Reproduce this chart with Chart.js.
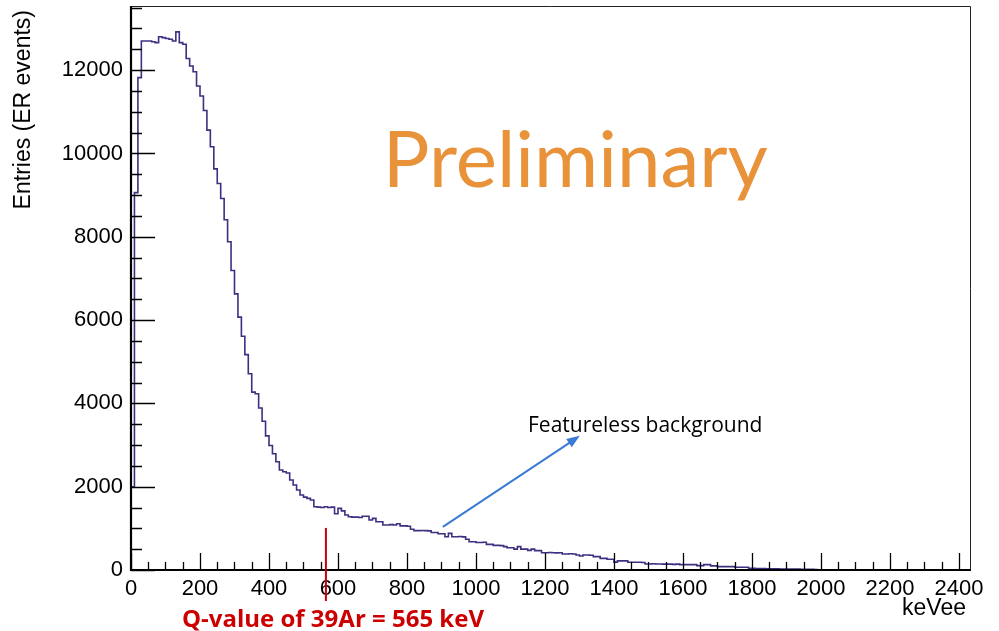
<!DOCTYPE html>
<html>
<head>
<meta charset="utf-8">
<script src="https://cdn.jsdelivr.net/npm/chart.js@4.4.1/dist/chart.umd.min.js"></script>
<style>
  html, body { margin: 0; padding: 0; background: #fff; }
  canvas { display: block; }
</style>
</head>
<body>
<canvas id="myChart" width="999" height="631"></canvas>
<script>
// histogram: 10 keVee bins from 0 to 2000, entries per bin
const BIN_WIDTH = 10;
const counts = [
    30, 2000, 9060, 11820, 12700, 12700, 12700, 12680, 12660, 12800,
    12780, 12760, 12740, 12700, 12920, 12660, 12620, 12280, 12100, 11960,
    11620, 11380, 11030, 10560, 10160, 9630, 9280, 8920, 8410, 7880,
    7190, 6630, 6070, 5610, 5170, 4710, 4270, 4230, 3890, 3570,
    3220, 2990, 2790, 2600, 2400, 2360, 2330, 2160, 2040, 1920,
    1800, 1750, 1720, 1680, 1520, 1510, 1500, 1520, 1500, 1510,
    1350, 1480, 1420, 1320, 1280, 1270, 1270, 1260, 1290, 1290,
    1200, 1240, 1160, 1160, 1080, 1080, 1090, 1080, 1110, 1060,
    1060, 1050, 980, 945, 945, 950, 945, 940, 900, 900,
    870, 870, 800, 880, 800, 800, 805, 795, 740, 680,
    680, 660, 660, 665, 615, 615, 590, 590, 585, 560,
    535, 535, 500, 560, 500, 500, 470, 500, 465, 465,
    415, 415, 420, 415, 410, 415, 385, 385, 390, 385,
    360, 336, 360, 360, 355, 320, 320, 280, 280, 257,
    257, 190, 220, 220, 220, 185, 185, 185, 185, 180,
    145, 145, 150, 145, 145, 140, 140, 140, 135, 140,
    130, 130, 130, 130, 130, 105, 105, 130, 130, 100,
    100, 80, 80, 80, 80, 80, 65, 65, 65, 65,
    40, 38, 35, 35, 33, 30, 30, 28, 28, 25,
    25, 22, 22, 20, 20, 18, 18, 15, 15, 12
];

const xTicks = [0, 200, 400, 600, 800, 1000, 1200, 1400, 1600, 1800, 2000, 2200, 2400];
const yTicks = [0, 2000, 4000, 6000, 8000, 10000, 12000];
const X_MAX = 2432;
const Y_MAX = 13540;

const xTitle = 'keVee';
const yTitle = 'Entries (ER events)';
const qValue = 565;
const qLabel = 'Q-value of 39Ar = 565 keV';
const bgLabel = 'Featureless background';
const bgArrow = { from: [904, 1034], to: [1301, 3220] };
const watermark = 'Preliminary';

const points = counts.map((c, i) => ({ x: i * BIN_WIDTH, y: c }));
points.push({ x: counts.length * BIN_WIDTH, y: 0 });

const ROOT_FONT = '"Liberation Sans", Arial, sans-serif';

const rootAxes = {
    id: 'rootAxes',
    afterDraw(chart)
    {
        const ctx = chart.ctx;
        const xs = chart.scales.x;
        const ys = chart.scales.y;
        const a = chart.chartArea;

        ctx.save();

        // frame
        ctx.strokeStyle = '#222';
        ctx.lineWidth = 1;
        ctx.beginPath();
        ctx.moveTo(a.left, a.top + 0.5);
        ctx.lineTo(a.right + 0.5, a.top + 0.5);
        ctx.lineTo(a.right + 0.5, a.bottom);
        ctx.stroke();

        // tick marks, drawn inward like ROOT
        ctx.strokeStyle = '#000';
        ctx.lineWidth = 1.3;
        ctx.beginPath();
        for (let v = 0; v <= 2400; v += 50)
        {
            const px = Math.round(xs.getPixelForValue(v)) + 0.5;
            const len = (v % 200 === 0) ? 17 : 8;
            ctx.moveTo(px, a.bottom);
            ctx.lineTo(px, a.bottom - len);
        }
        for (let v = 0; v <= 13500; v += 500)
        {
            const py = Math.round(ys.getPixelForValue(v)) + 0.5;
            const len = (v % 2000 === 0) ? 24 : 11;
            ctx.moveTo(a.left, py);
            ctx.lineTo(a.left + len, py);
        }
        ctx.stroke();

        // axis lines
        ctx.lineWidth = 2.2;
        ctx.beginPath();
        ctx.moveTo(a.left, a.top);
        ctx.lineTo(a.left, a.bottom);
        ctx.lineTo(a.right + 1, a.bottom);
        ctx.stroke();

        // axis titles
        ctx.fillStyle = '#000';
        ctx.font = '23px ' + ROOT_FONT;
        ctx.textAlign = 'right';
        ctx.textBaseline = 'alphabetic';
        ctx.fillText(xTitle, 966, 615);

        ctx.save();
        ctx.translate(30, 10);
        ctx.rotate(-Math.PI / 2);
        ctx.textAlign = 'right';
        ctx.fillText(yTitle, 0, 0);
        ctx.restore();

        // watermark
        ctx.fillStyle = 'rgb(232,146,58)';
        ctx.font = '78px Lato, "Noto Sans", sans-serif';
        ctx.textAlign = 'left';
        ctx.fillText(watermark, xs.getPixelForValue(730), ys.getPixelForValue(9200));

        // Q-value marker
        const qx = xs.getPixelForValue(qValue);
        ctx.strokeStyle = 'rgb(204,0,0)';
        ctx.lineWidth = 2;
        ctx.beginPath();
        ctx.moveTo(qx, ys.getPixelForValue(1010));
        ctx.lineTo(qx, a.bottom + 31);
        ctx.stroke();
        ctx.fillStyle = 'rgb(204,0,0)';
        ctx.font = 'bold 24px "Open Sans", sans-serif';
        ctx.textAlign = 'left';
        ctx.fillText(qLabel, 182, 627);

        // arrow towards the background label
        const x0 = xs.getPixelForValue(bgArrow.from[0]);
        const y0 = ys.getPixelForValue(bgArrow.from[1]);
        const x1 = xs.getPixelForValue(bgArrow.to[0]);
        const y1 = ys.getPixelForValue(bgArrow.to[1]);
        const ang = Math.atan2(y1 - y0, x1 - x0);
        ctx.strokeStyle = 'rgb(58,123,213)';
        ctx.fillStyle = 'rgb(58,123,213)';
        ctx.lineWidth = 2;
        ctx.beginPath();
        ctx.moveTo(x0, y0);
        ctx.lineTo(x1 - 8 * Math.cos(ang), y1 - 8 * Math.sin(ang));
        ctx.stroke();
        ctx.beginPath();
        ctx.moveTo(x1, y1);
        ctx.lineTo(x1 - 13 * Math.cos(ang) + 5 * Math.sin(ang), y1 - 13 * Math.sin(ang) - 5 * Math.cos(ang));
        ctx.lineTo(x1 - 13 * Math.cos(ang) - 5 * Math.sin(ang), y1 - 13 * Math.sin(ang) + 5 * Math.cos(ang));
        ctx.closePath();
        ctx.fill();

        ctx.fillStyle = '#000';
        ctx.font = '21px "Open Sans", sans-serif';
        ctx.fillText(bgLabel, 528, 432);

        ctx.restore();
    }
};

const ctx = document.getElementById('myChart').getContext('2d');
new Chart(ctx, {
    type: 'line',
    data: {
        datasets: [{
            label: 'ER events',
            data: points,
            stepped: 'after',
            borderColor: 'rgb(64,46,128)',
            borderWidth: 1.6,
            pointRadius: 0,
            fill: false
        }]
    },
    options: {
        responsive: false,
        animation: false,
        devicePixelRatio: 1,
        layout: { padding: { top: 6, right: 29, left: 0, bottom: 0 } },
        plugins: {
            legend: { display: false },
            tooltip: { enabled: false }
        },
        scales: {
            x: {
                type: 'linear',
                min: 0,
                max: X_MAX,
                grid: { display: false, drawTicks: false },
                border: { display: false },
                afterBuildTicks: (axis) => { axis.ticks = xTicks.map(v => ({ value: v })); },
                afterFit: (axis) => {
                    axis.height = 61;
                    axis.paddingLeft = 0;
                    axis.paddingRight = 0;
                },
                ticks: {
                    autoSkip: false,
                    maxRotation: 0,
                    padding: 6,
                    color: '#000',
                    font: { family: ROOT_FONT, size: 22 },
                    callback: (v) => String(v)
                }
            },
            y: {
                type: 'linear',
                min: 0,
                max: Y_MAX,
                grid: { display: false, drawTicks: false },
                border: { display: false },
                afterBuildTicks: (axis) => { axis.ticks = yTicks.map(v => ({ value: v })); },
                afterFit: (axis) => {
                    axis.width = 131;
                    axis.paddingTop = 0;
                    axis.paddingBottom = 0;
                },
                ticks: {
                    autoSkip: false,
                    padding: 8,
                    color: '#000',
                    font: { family: ROOT_FONT, size: 22 },
                    callback: (v) => String(v)
                }
            }
        }
    },
    plugins: [rootAxes]
});
</script>
</body>
</html>
